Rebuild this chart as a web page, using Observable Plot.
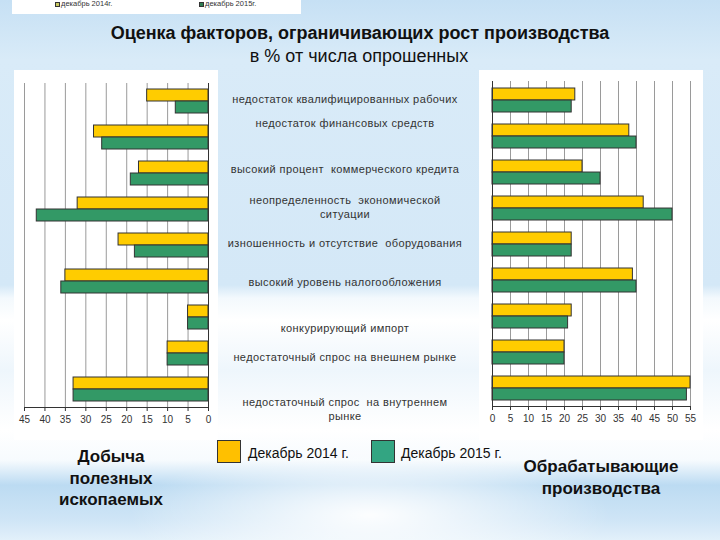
<!DOCTYPE html>
<html>
<head>
<meta charset="utf-8">
<script src="https://cdn.jsdelivr.net/npm/d3@7"></script>
<script src="https://cdn.jsdelivr.net/npm/@observablehq/plot@0.6"></script>
<style>
  html, body { margin: 0; padding: 0; }
  #slide {
    position: relative; width: 720px; height: 540px; overflow: hidden;
    font-family: "Liberation Sans", Arial, sans-serif; color: #111;
    background:
      radial-gradient(ellipse 240px 70px at 370px 515px, rgba(255,255,255,0.95), rgba(255,255,255,0) 100%),
      linear-gradient(to bottom, #c6e0f4 0px, #d9ebf8 60px, #d4e8f7 285px, #f3f9fd 298px, #ffffff 320px, #eef6fc 370px, #ffffff 430px, #f7fbfe 460px, #bcdbf2 485px, #cfe5f6 520px, #e2f0fa 540px);
  }
  .abs { position: absolute; }
  .cat {
    position: absolute; left: 215px; width: 260px; text-align: center;
    font-size: 11px; line-height: 14px; color: #333; letter-spacing: 0.4px;
    white-space: pre-wrap;
  }
  .panel { position: absolute; background: #fff; }
  .lgsq { position: absolute; width: 22px; height: 21px; border: 1px solid #333; }
  .lgtx { position: absolute; font-family: "Liberation Sans Narrow", "Arial Narrow", "Liberation Sans", sans-serif; font-size: 14px; color: #111; line-height: 16px; }
  .grp { position: absolute; text-align: center; font-weight: bold; font-size: 17px; line-height: 21.5px; color: #111; }
</style>
</head>
<body>
<div id="slide"></div>
<script>
// ---------- data ----------
const categories = [
  "недостаток квалифицированных рабочих",
  "недостаток финансовых средств",
  "высокий процент  коммерческого кредита",
  "неопределенность  экономической\nситуации",
  "изношенность и отсутствие  оборудования",
  "высокий уровень налогообложения",
  "конкурирующий импорт",
  "недостаточный спрос на внешнем рынке",
  "недостаточный спрос  на внутреннем\nрынке"
];
const series = ["Декабрь 2014 г.", "Декабрь 2015 г."];
const seriesSmall = ["декабрь 2014г.", "декабрь 2015г."];
const mining2014 = [15, 28, 17, 32, 22, 35, 5, 10, 33];
const mining2015 = [8, 26, 19, 42, 18, 36, 5, 10, 33];
const manuf2014 = [23, 38, 25, 42, 22, 39, 22, 20, 55];
const manuf2015 = [22, 40, 30, 50, 22, 40, 21, 20, 54];
const miningTicks = [0, 5, 10, 15, 20, 25, 30, 35, 40, 45];
const manufTicks = [0, 5, 10, 15, 20, 25, 30, 35, 40, 45, 50, 55];
const title = "Оценка факторов, ограничивающих рост производства";
const subtitle = "в % от числа опрошенных";
const groupLeft = "Добыча\nполезных\nископаемых";
const groupRight = "Обрабатывающие\nпроизводства";

// ---------- layout ----------
const slide = document.getElementById("slide");
const C2014 = "#FFCC00", C2015 = "#339966";
const L2014 = "#FFC000", L2015 = "#33A582";

function el(tag, cls, style, text) {
  const e = document.createElement(tag);
  if (cls) e.className = cls;
  Object.assign(e.style, style || {});
  if (text != null) e.textContent = text;
  slide.appendChild(e);
  return e;
}

// small top legend strip
el("div", "abs", {left: "12px", top: "0px", width: "289px", height: "14px", background: "#fff"});
[[55, "#c8c860"], [199, "#2e7d52"]].forEach(([x, c], i) => {
  el("div", "abs", {left: x + "px", top: "2px", width: "3px", height: "3px", border: "0.8px solid #333", background: c});
  el("div", "abs", {left: (x + 6) + "px", top: "-1px", fontSize: "7.5px", color: "#333", lineHeight: "9px"}, seriesSmall[i]);
});

// titles
el("div", "abs", {left: "0px", width: "720px", top: "22px", textAlign: "center", fontWeight: "bold", fontSize: "18px", lineHeight: "22px", color: "#111"}, title);
el("div", "abs", {left: "0px", width: "718px", top: "45px", textAlign: "center", fontSize: "18px", lineHeight: "22px", color: "#111"}, subtitle);

function chart({v2014, v2015, ticks, reverse, width, height, marginLeft, marginRight, marginTop, marginBottom}) {
  const rows = categories.map((c, i) => ({category: c, a: v2014[i], b: v2015[i]}));
  const half = (height - marginTop - marginBottom) / categories.length * (1 - 1/3) / 2;
  return Plot.plot({
    width, height, marginLeft, marginRight, marginTop, marginBottom,
    style: {background: "transparent", fontFamily: "'Liberation Sans', Arial, sans-serif", fontSize: "10px", color: "#333", overflow: "visible"},
    x: {domain: [0, ticks[ticks.length - 1]], reverse, ticks, tickSize: 4, tickPadding: 4, label: null},
    y: {domain: categories, paddingInner: 1/3, paddingOuter: 1/6, axis: null},
    marks: [
      Plot.ruleX(ticks, {stroke: "#9a9a9a", strokeWidth: 1}),
      Plot.barX(rows, {x: "a", y: "category", fill: C2014, stroke: "#333", strokeWidth: 1, insetBottom: half}),
      Plot.barX(rows, {x: "b", y: "category", fill: C2015, stroke: "#333", strokeWidth: 1, insetTop: half}),
      Plot.ruleX([0], {stroke: "#333", strokeWidth: 1}),
      Plot.frame({anchor: "bottom", stroke: "#333"})
    ]
  });
}

const leftPanel = el("div", "panel", {left: "14px", top: "70px", width: "204px", height: "370px"});
leftPanel.appendChild(chart({v2014: mining2014, v2015: mining2015, ticks: miningTicks, reverse: true,
  width: 204, height: 370, marginLeft: 10, marginRight: 10, marginTop: 13, marginBottom: 33}));

const rightPanel = el("div", "panel", {left: "479px", top: "70px", width: "224px", height: "370px"});
rightPanel.appendChild(chart({v2014: manuf2014, v2015: manuf2015, ticks: manufTicks, reverse: false,
  width: 224, height: 370, marginLeft: 13, marginRight: 13, marginTop: 11, marginBottom: 34}));

// category labels (centre y of first line)
const labelY = [99, 123, 169, 200, 243, 282, 328, 357, 402];
categories.forEach((c, i) => {
  el("div", "cat", {top: (labelY[i] - 7) + "px"}, c);
});

// bottom legend
el("div", "lgsq", {left: "217px", top: "440px", background: L2014});
el("div", "lgtx", {left: "248px", top: "445px"}, series[0]);
el("div", "lgsq", {left: "371px", top: "440px", background: L2015});
el("div", "lgtx", {left: "401px", top: "445px"}, series[1]);

// group titles
el("div", "grp", {left: "31px", width: "160px", top: "446px", whiteSpace: "pre-line"}, groupLeft);
el("div", "grp", {left: "521px", width: "160px", top: "456px", whiteSpace: "pre-line"}, groupRight);
</script>
</body>
</html>
